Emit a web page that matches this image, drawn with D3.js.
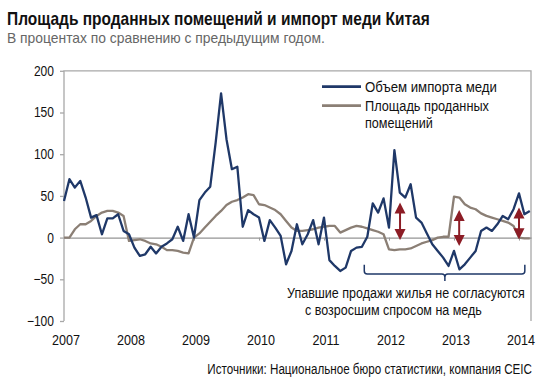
<!DOCTYPE html>
<html>
<head>
<meta charset="utf-8">
<script src="https://cdn.jsdelivr.net/npm/d3@7"></script>
<style>
  body { margin: 0; background: #fff; }
  svg { display: block; font-family: "Liberation Sans", Arial, Helvetica, sans-serif; }
</style>
</head>
<body>
<div id="container"></div>
<script>
"use strict";

// monthly data, Jan 2007 .. Mar 2014, % y/y
const startYear = 2007;
const copperImports = [
    44, 70, 60, 68, 48, 24, 27, 4, 23, 23, 28, 8,
    4, -12, -22, -20, -11, -19, -11, -7, -2, 13, -4, 28,
    0, 45, 54, 61, 114, 173, 118, 82, 85, 13, 33, 28,
    24, -4, 21, 12, 2, -32, -16, 16, -8, 4, 21, -8,
    24, -27, -34, -40, -36, -16, -12, -11, 1, 41, 30, 47,
    12, 105, 54, 48, 64, 24, 18, 5, -8, -16, -24, -34,
    -16, -38, -32, -24, -16, 8, 12, 8, 16, 26, 22, 34,
    53, 28, 32
];
const floorSpace = [
    0, 0, 10, 16, 16, 20, 26, 30, 32, 32, 30, 26,
    -4, -3, -2, -4, -7, -8, -11, -15, -15, -16, -18, -19,
    0, 5, 12, 19, 26, 32, 39, 43, 45, 48, 52, 51,
    40, 39, 36, 33, 28, 20, 12, 8, 8, 9, 10, 12,
    13, 14, 14, 6, 9, 12, 14, 13, 11, 9, 7, 4,
    -14, -15, -14, -14, -13, -10, -7, -5, -3, 0, 1, 1,
    49, 48, 40, 36, 34, 29, 26, 24, 22, 20, 18, 14,
    0, -1, -1
];
const seriesNames = ["Объем импорта меди", "Площадь проданных", "помещений"];
const yearTicks = [2007, 2008, 2009, 2010, 2011, 2012, 2013, 2014];
const valueTicks = [-100, -50, 0, 50, 100, 150, 200];

// annotation: double arrows and the bracket
const arrowYears = [2012.17, 2013.08, 2014.0];
const arrowTops = [42, 33, 36];
const arrowBottoms = [-3, -10, -2];
const bracketYears = [2011.62, 2012.86, 2014.09];
const bracketLevels = [-32.5, -43.5, -52];

const title = "Площадь проданных помещений и импорт меди Китая";
const subtitle = "В процентах по сравнению с предыдущим годом.";
const noteLines = ["Упавшие продажи жилья не согласуются", "с возросшим спросом на медь"];
const source = "Источники: Национальное бюро статистики, компания CEIC";

const blue = "#1f3868", taupe = "#8b7f75", red = "#8c1c25", frame = "#a8a8a8";

// the original lettering is narrow: scale text horizontally around its x
function scaleX(sel, k) {
    sel.each(function () {
        const el = d3.select(this);
        const x0 = +el.attr("x") || 0;
        el.attr("x", 0).attr("transform", `translate(${x0},0) scale(${k},1)`);
    });
}
function fitTo(sel, w) {
    sel.each(function () {
        scaleX(d3.select(this), w / this.getComputedTextLength());
    });
}

const svg = d3.select("#container")
    .append("svg")
    .attr("width", 556)
    .attr("height", 390);

const x = d3.scaleLinear().domain([2007, 2014.185]).range([64, 531]);
const y = d3.scaleLinear().domain([-100, 200]).range([321, 70.8]);

// title + subtitle
svg.append("text")
    .attr("x", 7).attr("y", 25)
    .style("font-size", "17.5px").style("font-weight", "bold").style("fill", "#111")
    .text(title)
    .call(fitTo, 423);
svg.append("text")
    .attr("x", 7).attr("y", 43.5)
    .style("font-size", "14px").style("fill", "#666")
    .text(subtitle)
    .call(fitTo, 318);

// frame: left axis line, top and right borders
svg.append("path")
    .attr("d", `M${x(2007)},${y(-100)}V${y(200)}H${x.range()[1]}V${y(-100)}`)
    .attr("fill", "none")
    .attr("stroke", frame)
    .attr("stroke-width", 1.3);

// y axis
const yAxis = svg.append("g")
    .attr("transform", `translate(${x(2007)},0)`)
    .call(d3.axisLeft(y).tickValues(valueTicks).tickSize(4).tickPadding(6));
yAxis.select(".domain").remove();
yAxis.selectAll("line").attr("stroke", frame).attr("stroke-width", 1.3);
yAxis.selectAll("text")
    .style("font-size", "14px").style("fill", "#111").attr("font-family", null)
    .call(scaleX, 0.86);

// zero line with small year ticks
const zeroAxis = svg.append("g")
    .attr("transform", `translate(0,${y(0)})`)
    .call(d3.axisBottom(x).tickValues(yearTicks.slice(1)).tickSize(3).tickSizeOuter(0).tickFormat(""));
zeroAxis.select(".domain").attr("stroke", "#7a7a7a").attr("stroke-width", 1);
zeroAxis.selectAll("line").attr("stroke", "#9a9a9a");

// year labels
const xAxis = svg.append("g")
    .attr("transform", `translate(1.5,${y(-100)})`)
    .call(d3.axisBottom(x).tickValues(yearTicks).tickSize(0).tickPadding(13).tickFormat(d3.format("d")));
xAxis.select(".domain").remove();
xAxis.selectAll("text")
    .style("font-size", "15px").style("fill", "#111").attr("font-family", null)
    .call(scaleX, 0.84);

// series lines
const line = d3.line()
    .x((d, i) => x(startYear + i / 12))
    .y((d) => y(d))
    .curve(d3.curveLinear);

svg.append("path")
    .datum(floorSpace)
    .attr("d", line)
    .attr("fill", "none")
    .attr("stroke", taupe)
    .attr("stroke-width", 2.3)
    .attr("stroke-linejoin", "round");

svg.append("path")
    .datum(copperImports)
    .attr("d", line)
    .attr("fill", "none")
    .attr("stroke", blue)
    .attr("stroke-width", 2.3)
    .attr("stroke-linejoin", "round");

// double arrows
const head = 11, half = 5.5;
const arrows = svg.append("g").attr("fill", red).attr("stroke", red);
arrowYears.forEach((yr, i) => {
    const cx = x(yr), yt = y(arrowTops[i]), yb = y(arrowBottoms[i]);
    arrows.append("line")
        .attr("x1", cx).attr("x2", cx)
        .attr("y1", yt + head - 1).attr("y2", yb - head + 1)
        .attr("stroke-width", 2);
    arrows.append("path")
        .attr("stroke", "none")
        .attr("d", `M${cx},${yt}L${cx + half},${yt + head}L${cx - half},${yt + head}Z`);
    arrows.append("path")
        .attr("stroke", "none")
        .attr("d", `M${cx},${yb}L${cx + half},${yb - head}L${cx - half},${yb - head}Z`);
});

// bracket under the 2011-2014 period
const bx0 = x(bracketYears[0]), bxm = x(bracketYears[1]), bx1 = x(bracketYears[2]);
const byt = y(bracketLevels[0]), byl = y(bracketLevels[1]), byb = y(bracketLevels[2]);
const r = 3;
svg.append("path")
    .attr("d",
        `M${bx0},${byt}V${byl - r}Q${bx0},${byl} ${bx0 + r},${byl}H${bxm - r}Q${bxm},${byl} ${bxm},${byl + r}V${byb}` +
        `M${bxm},${byl + r}Q${bxm},${byl} ${bxm + r},${byl}H${bx1 - r}Q${bx1},${byl} ${bx1},${byl - r}V${byt}`)
    .attr("fill", "none")
    .attr("stroke", blue)
    .attr("stroke-width", 1.5);

// note text
svg.append("text")
    .attr("x", 287).attr("y", 298.5)
    .style("font-size", "15.5px").style("fill", "#111")
    .text(noteLines[0])
    .call(fitTo, 238);
svg.append("text")
    .attr("x", 305).attr("y", 315)
    .style("font-size", "15.5px").style("fill", "#111")
    .text(noteLines[1])
    .call(fitTo, 177);

// legend
const legend = svg.append("g");
legend.append("line")
    .attr("x1", 322).attr("x2", 361).attr("y1", 86.7).attr("y2", 86.7)
    .attr("stroke", blue).attr("stroke-width", 2.7);
legend.append("line")
    .attr("x1", 322).attr("x2", 361).attr("y1", 105.7).attr("y2", 105.7)
    .attr("stroke", taupe).attr("stroke-width", 2.7);
legend.append("text")
    .attr("x", 365).attr("y", 92.5)
    .style("font-size", "15.5px").style("fill", "#111")
    .text(seriesNames[0])
    .call(fitTo, 132);
legend.append("text")
    .attr("x", 365).attr("y", 111.5)
    .style("font-size", "15.5px").style("fill", "#111")
    .text(seriesNames[1])
    .call(fitTo, 124);
legend.append("text")
    .attr("x", 365).attr("y", 128.5)
    .style("font-size", "15.5px").style("fill", "#111")
    .text(seriesNames[2])
    .call(fitTo, 68);

// source
svg.append("text")
    .attr("x", 532).attr("y", 374.5)
    .attr("text-anchor", "end")
    .style("font-size", "14.5px").style("fill", "#111")
    .text(source)
    .call(fitTo, 325);
</script>
</body>
</html>
